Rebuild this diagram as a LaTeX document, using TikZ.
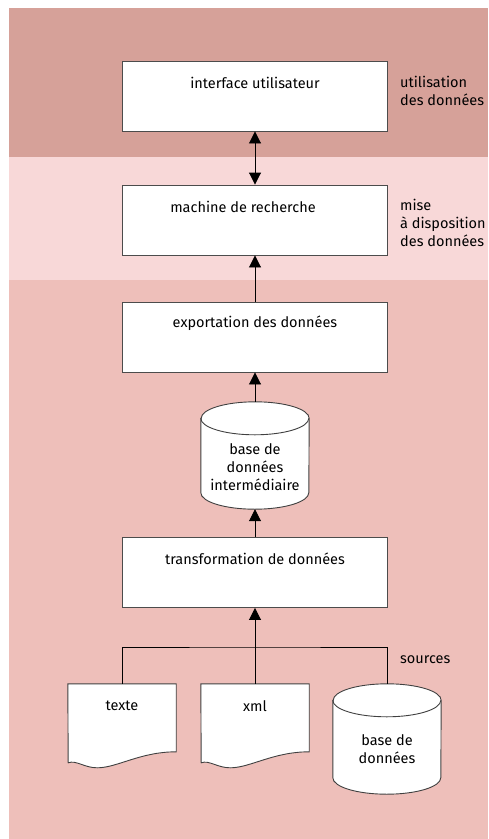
\documentclass[tikz,border=0pt]{standalone}
\usepackage{fontspec}
\setmainfont{Fira Sans}
\usetikzlibrary{arrows.meta}
\pgfdeclarelayer{background}
\pgfsetlayers{background,main}
\definecolor{bandtop}{HTML}{D6A199}
\definecolor{bandmid}{HTML}{F8D8D8}
\definecolor{bandlow}{HTML}{EEBFBA}
\tikzset{
  bloc/.style={draw=black!70, line width=0.9pt, fill=white, minimum width=265pt,
    minimum height=70pt, inner sep=0pt},
  titre/.style={label={[anchor=center,yshift=-22pt]north:#1}},
  doc/.style={minimum width=108pt, minimum height=84pt, inner sep=0pt, titre=#1},
  docline/.style={draw=black!75, line width=0.9pt, fill=white},
  cuve/.style={minimum width=108pt, minimum height=107pt, inner sep=0pt},
  tip/.tip={Triangle[length=12pt,width=12pt]},
  fleche/.style={-tip, line width=0.9pt},
  zone/.style={anchor=north west, align=left, inner sep=0pt}
}
\begin{document}
\begin{tikzpicture}[x=1pt,y=-1pt,font=\fontsize{14.5}{18}\selectfont]
\useasboundingbox (0,0) rectangle (488,839);

\node[bloc, titre=interface utilisateur] (ui) at (255,96) {};
\node[bloc, label={[anchor=center,xshift=-12pt,yshift=-22pt]north:machine de recherche}] (moteur) at (255,220) {};
\node[bloc, titre=exportation des données] (export) at (255,337) {};
\node[cuve, label={[align=center,yshift=-12pt]center:base de\\données\\intermédiaire}] (inter) at (255,455.5) {};
\node[bloc, titre=transformation de données] (trans) at (255,572.5) {};

% sources
\node[doc=texte] (texte) at (122,726) {};
\node[doc=xml] (xml) at (255,726) {};
\node[cuve, minimum height=110pt, label={[align=center,yshift=-10pt]center:base de\\données}] (bdd) at (387,739) {};

\begin{pgfonlayer}{background}
% bands behind the layers
\fill[bandtop] (9,8) rectangle (488,157);
\fill[bandmid] (9,157) rectangle (488,280);
\fill[bandlow] (9,280) rectangle (488,839);
% paper sheets with a wavy lower edge
\foreach \d in {texte,xml}
  \draw[docline] (\d.north west) -- (\d.north east) -- ++(0,68)
    .. controls +(-36,0) and +(20,0) .. ++(-79,16)
    .. controls +(-13,0) and +(8,-3) .. ++(-29,-5) -- cycle;
% database drums
\foreach \c in {inter,bdd} {
  \draw[docline] ([yshift=-16.5pt]\c.north west) -- ([yshift=16.5pt]\c.south west)
    arc[start angle=180, end angle=360, x radius=54pt, y radius=16.5pt]
    -- ([yshift=-16.5pt]\c.north east)
    arc[start angle=0, end angle=180, x radius=54pt, y radius=16.5pt] -- cycle;
  \draw[docline, fill=none] ([yshift=-16.5pt]\c.north west)
    arc[start angle=180, end angle=360, x radius=54pt, y radius=16.5pt];
}
\end{pgfonlayer}

% layer names
\node[zone] at (400,76) {utilisation\\des données};
\node[zone] at (400,199) {mise\\à disposition\\des données};
\node[zone] at (400,655) {sources};

\draw[fleche,tip-tip] (ui) -- (moteur);
\draw[fleche] (export) -- (moteur);
\draw[fleche] (inter) -- (export);
\draw[fleche] (trans) -- (inter);
\coordinate (branche) at (255,647);
\draw[line width=0.9pt] (texte.north) |- (branche) -| (bdd.north);
\draw[fleche] (xml.north) -- (trans.south);
\end{tikzpicture}
\end{document}
